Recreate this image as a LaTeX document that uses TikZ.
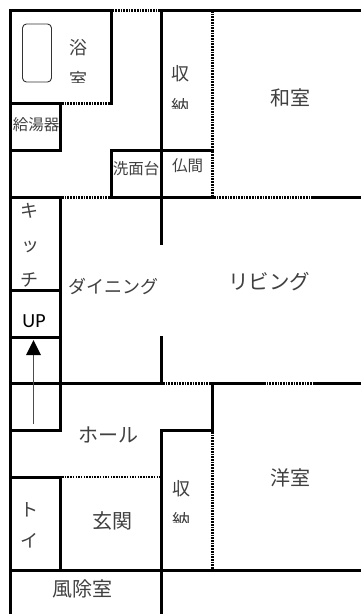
\documentclass[tikz,border=0pt]{standalone}
\usepackage{fontspec}
\setmainfont{Noto Sans CJK JP}
\newfontfamily\latinfont{Carlito}
\definecolor{ink}{gray}{0.25}
\tikzset{
  wall/.style={line width=3pt,line cap=rect,black},
  screen/.style={line width=3pt,black,dash pattern=on 1.7pt off 1pt},
  finescreen/.style={line width=2.2pt,black,dash pattern=on 1.5pt off 1.2pt},
  lbl/.style={inner sep=0pt,text=ink,font=\fontsize{18}{18}\selectfont},
  sml/.style={inner sep=0pt,text=ink,font=\fontsize{15.5}{16}\selectfont},
  kata/.style={inner sep=0pt,text=ink,font=\fontsize{18}{18}\selectfont},
  big/.style={inner sep=0pt,text=ink,font=\fontsize{20}{20}\selectfont},
}
\begin{document}
\begin{tikzpicture}[x=1pt,y=-1pt]
\useasboundingbox[fill=white] (0,0) rectangle (360,614);
% outer and main walls
\draw[wall] (10,614) -- (10,10) -- (111,10);
\draw[wall] (161,10) -- (360,10);
\draw[wall] (111,10) -- (111,103);
\draw[wall] (10,103) -- (60,103) -- (60,150);
\draw[wall] (10,150) -- (60,150);
\draw[wall] (111,197) -- (111,150) -- (212,150);
\draw[wall] (10,197) -- (60,197);
\draw[wall] (111,197) -- (212,197);
\draw[wall] (313,197) -- (360,197);
\draw[wall] (161,10) -- (161,243);
\draw[wall] (60,197) -- (60,430);
\draw[wall] (10,290) -- (60,290);
\draw[wall] (10,337) -- (60,337);
\draw[wall] (161,337) -- (161,383);
\draw[wall] (10,383) -- (161,383);
\draw[wall] (212,383) -- (263,383);
\draw[wall] (314,383) -- (360,383);
\draw[wall] (10,430) -- (60,430);
\draw[wall] (161,614) -- (161,430) -- (212,430) -- (212,383);
\draw[wall] (10,477) -- (60,477) -- (60,570);
\draw[wall] (10,570) -- (360,570);
% sliding screens
\draw[screen] (112.5,10) -- (160,10);
\draw[screen] (62,103) -- (110,103);
\draw[screen] (62,197) -- (110,197);
\draw[screen] (212,11) -- (212,196);
\draw[screen] (214,197) -- (312,197);
\draw[screen] (163,383) -- (211,383);
\draw[screen] (264,383) -- (313,383);
\draw[screen] (212,432) -- (212,570);
\draw[finescreen] (62,477) -- (160,477);
% bath tub
\draw[line width=0.9pt,black!80,rounded corners=4pt] (22.5,24) rectangle (51.5,82);
% stair arrow
\coordinate (stairfoot) at (33.5,424);
\coordinate (stairtop) at (33.5,340);
\draw[line width=0.8pt,black!70] (stairfoot) -- (33.5,354);
\fill[black] (stairtop) -- (41,355) -- (26,355) -- cycle;
% labels
\node[lbl] (yoku) at (78.5,48) {浴};
\begin{scope}
\clip (60,70) rectangle (100,82.5);
\node[lbl] (shitsu) at (78,79) {室};
\end{scope}
\node[lbl] (shu1) at (180,74) {収};
\begin{scope}
\clip (165,98) rectangle (195,108.5);
\node[lbl] (no1) at (180,106.5) {納};
\end{scope}
\node[sml] (kyu) at (36,125) {給湯器};
\node[sml] (sen) at (136,169) {洗面台};
\node[sml] (butsu) at (187.5,166) {仏間};
\node[big] (wa) at (290,98) {和室};
\node[kata] (ki) at (29,211) {キ};
\node[kata] (tsu) at (30,247) {ッ};
\node[kata] (chi) at (29,280) {チ};
\node[inner sep=0pt,font=\latinfont\fontsize{20}{20}\selectfont] (up) at (34,321) {UP};
\node[lbl] (din) at (113,287) {ダイニング};
\node[inner sep=0pt,text=ink,font=\fontsize{20.5}{20}\selectfont] (liv) at (269,282) {リビング};
\node[big] (hall) at (108.5,435) {ホール};
\node[kata] (to) at (29,510) {ト};
\node[kata] (i) at (29,541) {イ};
\node[big] (gen) at (112,521) {玄関};
\node[big] (fu) at (82.5,589) {風除室};
\node[lbl] (shu2) at (181,489) {収};
\begin{scope}
\clip (165,512) rectangle (195,522.5);
\node[lbl] (no2) at (181,520.5) {納};
\end{scope}
\node[big] (you) at (290,478) {洋室};
\end{tikzpicture}
\end{document}
